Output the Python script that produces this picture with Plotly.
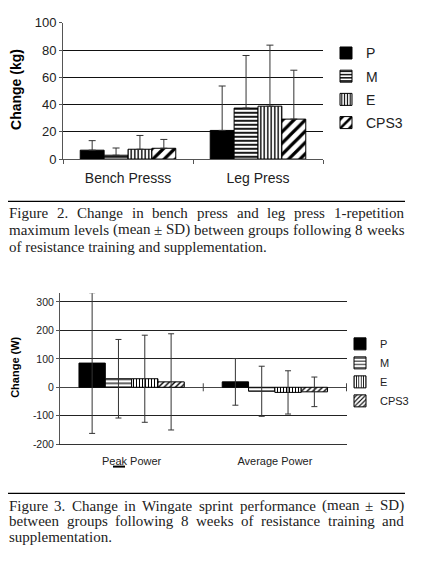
import plotly.graph_objects as go

# The page has an 8px body margin, so the figure is drawn at (8, 8) in the window.
OFF = 8
W, H = 423 - OFF, 569 - OFF

# ---------- data ----------
groups = ["P", "M", "E", "CPS3"]

strength_cats = ["Bench Presss", "Leg Press"]
strength_mean = {"P": [6.5, 21], "M": [2.8, 37.4], "E": [7.2, 38.8], "CPS3": [7.9, 29.3]}
strength_sd = {"P": [7.0, 32.6], "M": [5.3, 38.6], "E": [10.1, 44.8], "CPS3": [6.5, 35.9]}
strength_ticks = [0, 20, 40, 60, 80, 100]

power_cats = ["Peak Power", "Average Power"]
power_mean = {"P": [85, 19], "M": [30, -14], "E": [30, -18], "CPS3": [19, -16]}
power_sd = {"P": [247, 82], "M": [138, 88], "E": [153, 76], "CPS3": [169, 52]}
power_ticks = [-200, -100, 0, 100, 200, 300]
power_ticktext = ["-200", "-100", "0", "100", "200", "300"]

caption2 = ["Figure 2. Change in bench press and leg press 1-repetition",
            "maximum levels (mean \u00b1 SD) between groups following 8 weeks",
            "of resistance training and supplementation."]
caption3 = ["Figure 3.  Change in Wingate sprint performance (mean \u00b1 SD)",
            "between groups following 8 weeks of resistance training and",
            "supplementation."]

# ---------- styles ----------
top_pat = {
    "P": dict(shape=""),
    "M": dict(shape="-", size=4, solidity=0.45),
    "E": dict(shape="|", size=3.5, solidity=0.4),
    "CPS3": dict(shape="/", size=8, solidity=0.4),
}
bot_pat = {
    "P": dict(shape=""),
    "M": dict(shape="-", size=4, solidity=0.3),
    "E": dict(shape="|", size=3, solidity=0.35),
    "CPS3": dict(shape="/", size=4, solidity=0.35),
}
fill = {"P": "black", "M": "white", "E": "white", "CPS3": "white"}

SANS = "Liberation Sans"
SERIF = "Liberation Serif"
CAP_SIZE = 15

# Times New Roman advance widths (per 1000 em), used to justify caption lines
TW = {" ": 250, ".": 250, "-": 333, "(": 333, ")": 333, "\u00b1": 549,
      "1": 500, "2": 500, "3": 500, "8": 500,
      "C": 667, "D": 722, "F": 556, "S": 556, "W": 944,
      "a": 444, "b": 500, "c": 444, "d": 500, "e": 444, "f": 333, "g": 500, "h": 500,
      "i": 278, "k": 500, "l": 278, "m": 778, "n": 500, "o": 500, "p": 500, "r": 333,
      "s": 389, "t": 278, "u": 500, "v": 500, "w": 722, "x": 500, "y": 500}


def text_w(s):
    return sum(TW.get(c, 500) for c in s) * CAP_SIZE / 1000.0


def px(X):
    return (X - OFF) / W


def py(Y):
    return 1 - (Y - OFF) / H


fig = go.Figure()

for g in groups:
    pat = dict(top_pat[g])
    pat.update(fgcolor="black", bgcolor=fill[g], fillmode="replace")
    fig.add_trace(go.Bar(
        x=strength_cats, y=strength_mean[g], name=g,
        xaxis="x", yaxis="y", legend="legend", legendgroup="t" + g,
        marker=dict(color=fill[g], line=dict(color="black", width=1), pattern=pat),
        error_y=dict(type="data", symmetric=False, array=strength_sd[g],
                     arrayminus=[0] * len(strength_sd[g]),
                     color="#333333", thickness=1, width=3.5),
    ))

for g in groups:
    pat = dict(bot_pat[g])
    pat.update(fgcolor="black", bgcolor=fill[g], fillmode="replace")
    fig.add_trace(go.Bar(
        x=power_cats, y=power_mean[g], name=g,
        xaxis="x2", yaxis="y2", legend="legend2", legendgroup="b" + g,
        marker=dict(color=fill[g], line=dict(color="black", width=1), pattern=pat),
        error_y=dict(type="data", array=power_sd[g],
                     color="#333333", thickness=1, width=3),
    ))

shapes = [
    # caption rules
    dict(type="line", xref="paper", yref="paper", x0=px(8), x1=px(405), y0=py(199.5), y1=py(199.5),
         line=dict(color="black", width=1.3)),
    dict(type="line", xref="paper", yref="paper", x0=px(8), x1=px(405), y0=py(499.5), y1=py(499.5),
         line=dict(color="black", width=1.3)),
    # small dark bar under "Peak Power"
    dict(type="line", xref="paper", yref="paper", x0=px(113), x1=px(125), y0=py(472), y1=py(472),
         line=dict(color="black", width=2)),
]
# tick marks crossing the zero line of the power chart
for xv in [0.5, 1.5]:
    shapes.append(dict(type="line", xref="x2", yref="y2", ysizemode="pixel", yanchor=0,
                       x0=xv, x1=xv, y0=-4, y1=4, line=dict(color="#444444", width=1)))

annotations = [
    dict(text="<b>Change (kg)</b>", xref="paper", yref="paper", x=px(16), y=py(85),
         xanchor="center", yanchor="middle",
         textangle=-90, showarrow=False, font=dict(family=SANS, size=14, color="black")),
    dict(text="<b>Change (W)</b>", xref="paper", yref="paper", x=px(15.5), y=py(370),
         xanchor="center", yanchor="middle",
         textangle=-90, showarrow=False, font=dict(family=SANS, size=11, color="black")),
]


def add_caption(lines, y_first, step, justify_flags):
    left, right = 8.0, 403.0
    for i, (line, just) in enumerate(zip(lines, justify_flags)):
        yy = py(y_first + step * i)
        if not just:
            annotations.append(dict(text=line, xref="paper", yref="paper", x=px(left - 1), y=yy,
                                    xanchor="left", yanchor="middle", showarrow=False,
                                    font=dict(family=SERIF, size=CAP_SIZE, color="#222222")))
            continue
        words = line.split()
        widths = [text_w(w) for w in words]
        gap = (right - left - sum(widths)) / (len(words) - 1)
        xcur = left
        for w, wd in zip(words, widths):
            annotations.append(dict(text=w, xref="paper", yref="paper", x=px(xcur - 1), y=yy,
                                    xanchor="left", yanchor="middle", showarrow=False,
                                    font=dict(family=SERIF, size=CAP_SIZE, color="#222222")))
            xcur += wd + gap


add_caption(caption2, 211, 17.5, [True, True, False])
add_caption(caption3, 512, 16, [True, True, False])

fig.update_layout(
    width=W, height=H,
    margin=dict(l=0, r=0, t=0, b=0),
    paper_bgcolor="white", plot_bgcolor="white",
    barmode="group", bargap=0.265, bargroupgap=0,
    showlegend=True,
    font=dict(family=SANS, color="black"),
    xaxis=dict(domain=[px(63), px(323)], anchor="y", type="category",
               showline=True, linecolor="#555555", linewidth=1,
               ticks="outside", tickson="boundaries", ticklen=4, tickcolor="#555555",
               ticklabelstandoff=6,
               tickfont=dict(family=SANS, size=14, color="#222222"), showgrid=False),
    yaxis=dict(domain=[py(156), py(16)], anchor="x", range=[0, 100], tickvals=strength_ticks,
               showline=True, linecolor="#555555", linewidth=1,
               ticks="outside", ticklen=3, tickcolor="#555555",
               showgrid=True, gridcolor="#111111", gridwidth=1, zeroline=False,
               tickfont=dict(family=SANS, size=13, color="#222222")),
    xaxis2=dict(domain=[px(60), px(347)], anchor="y2", type="category",
                showline=True, linecolor="#333333", linewidth=1, ticks="",
                ticklabelstandoff=7,
                tickfont=dict(family=SANS, size=11, color="#222222"), showgrid=False),
    yaxis2=dict(domain=[py(449), py(294)], anchor="x2", range=[-200, 330],
                tickvals=power_ticks, ticktext=power_ticktext,
                showline=True, linecolor="#555555", linewidth=1,
                ticks="outside", ticklen=3, tickcolor="#555555",
                showgrid=True, gridcolor="#222222", gridwidth=1,
                zeroline=True, zerolinecolor="#444444", zerolinewidth=1,
                tickfont=dict(family=SANS, size=10.5, color="#222222")),
    legend=dict(x=px(326), y=py(31), xanchor="left", yanchor="top",
                font=dict(family=SANS, size=14, color="#222222"),
                tracegroupgap=2, itemwidth=30, bgcolor="rgba(0,0,0,0)"),
    legend2=dict(x=px(340), y=py(331), xanchor="left", yanchor="top",
                 font=dict(family=SANS, size=11, color="#222222"),
                 tracegroupgap=0, itemwidth=30, bgcolor="rgba(0,0,0,0)"),
    shapes=shapes,
    annotations=annotations,
)

fig.write_html("out.html")
